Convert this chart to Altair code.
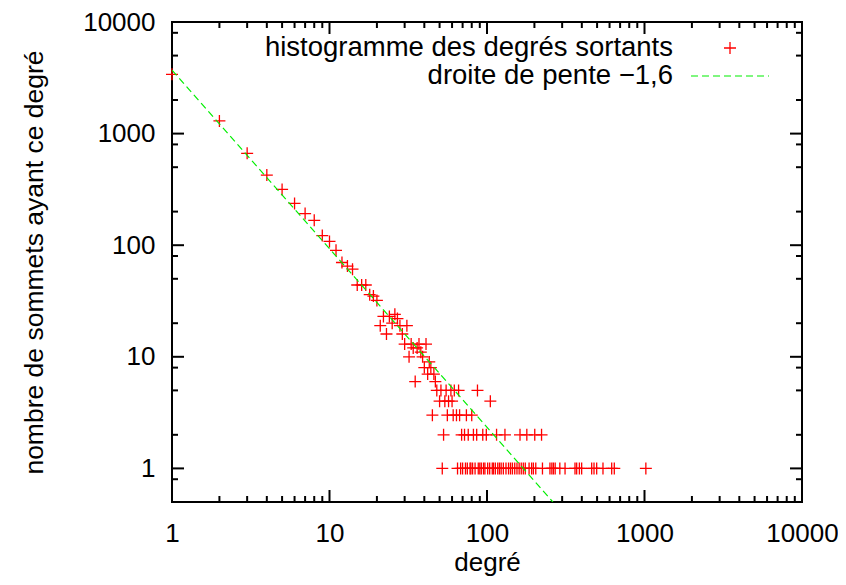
import altair as alt
import pandas as pd

# ---------------- data ----------------
# degrees 1..47 with their counts
head_deg = [1, 2, 3, 4, 5, 6, 7, 8, 9, 10, 11, 12, 13, 14, 15, 16, 17, 18, 19, 20,
            21, 22, 23, 24, 25, 26, 27, 28, 29, 30, 31, 32, 33, 34, 35, 36, 37, 38,
            39, 40, 41, 42, 43, 44, 45, 46, 47]
head_cnt = [3400, 1300, 665, 425, 316, 237, 192, 167, 122, 108, 90, 70, 65, 61, 44, 44,
            44, 36, 35, 32, 19, 23, 16, 23, 20, 24, 22, 19, 16, 13, 19, 10, 13, 12, 6,
            12, 13, 11, 10, 8, 13, 7, 9, 8, 3, 7, 6]
# degrees having 5, 4, 3, 2 and 1 vertices
deg_cnt5 = [48, 51, 55, 59, 62, 66, 87]
deg_cnt4 = [50, 54, 57, 60, 105]
deg_cnt3 = [56, 61, 64, 67, 74, 80]
deg_cnt2 = [53, 69, 72, 76, 82, 86, 94, 99, 115, 130, 162, 179, 201, 222]
deg_cnt1 = [52, 65, 68, 70, 73, 75, 78, 79, 81, 84, 88, 90, 92, 95, 97, 101, 104, 108,
            110, 113, 117, 120, 123, 127, 132, 137, 141, 145, 150, 155, 160, 165, 170,
            175, 185, 192, 197, 204, 225, 251, 258, 264, 271, 290, 313, 362, 371, 386,
            399, 462, 478, 497, 545, 619, 643, 1020]

# fitted line of slope -1.6 (end points)
line_deg = [1, 262]
line_cnt = [3700, 0.5]

x_major = [1, 10, 100, 1000, 10000]
x_minor = [m * 10 ** e for e in range(4) for m in range(2, 10)]
y_major = [1.0, 10.0, 100.0, 1000.0, 10000.0]
y_minor = [0.8] + [m * 10 ** e for e in range(4) for m in (2, 5, 8)]

legend_labels = ["histogramme des degrés sortants", "droite de pente \u22121,6"]

# ---------------- build tables ----------------
degs = list(head_deg)
cnts = list(head_cnt)
for c, lst in [(5, deg_cnt5), (4, deg_cnt4), (3, deg_cnt3), (2, deg_cnt2), (1, deg_cnt1)]:
    degs += lst
    cnts += [c] * len(lst)
pts = pd.DataFrame({"d": degs, "n": cnts})
line_df = pd.DataFrame({"d": line_deg, "n": line_cnt})

FONT = "Liberation Sans"
FS = 26
FS_LEG = 27.5
W, H = 630, 480
MAJ, MIN = 12, 6
PLUS = "M-1,0L1,0M0,-1L0,1"
RED = "#ff0000"
GREEN = "#00ee00"

xscale = alt.Scale(type="log", domain=[1, 10000], nice=False)
yscale = alt.Scale(type="log", domain=[0.5, 10000], nice=False)

# axes carrying only the labels and titles
label_x = alt.Axis(orient="bottom", values=x_major, format="d", ticks=False,
                   domain=False, grid=False, labelPadding=18, labelFont=FONT,
                   labelFontSize=FS, labelColor="black", labelFlush=False,
                   labelOverlap=False, title="degré", titleFont=FONT, titleFontSize=FS,
                   titleFontWeight="normal", titleColor="black", titleX=W / 2,
                   titleY=68, titleBaseline="alphabetic", titleAlign="center")
label_y = alt.Axis(orient="left", values=y_major, format="d", ticks=False,
                   domain=False, grid=False, labelPadding=17, labelFont=FONT,
                   labelFontSize=FS, labelColor="black", labelFlush=False,
                   labelOverlap=False, title="nombre de sommets ayant ce degré",
                   titleFont=FONT, titleFontSize=26.5, titleFontWeight="normal",
                   titleColor="black", titleX=-138, titleY=H / 2, titleAngle=270,
                   titleAlign="center", titleBaseline="middle")

points = alt.Chart(pts).mark_point(
    shape=PLUS, size=144, filled=False, strokeWidth=1.3, color=RED, opacity=1
).encode(
    x=alt.X("d:Q", scale=xscale, axis=label_x),
    y=alt.Y("n:Q", scale=yscale, axis=label_y),
)

fit = alt.Chart(line_df).mark_line(
    color=GREEN, strokeWidth=1.2, strokeDash=[7, 4], clip=True
).encode(
    x=alt.X("d:Q", scale=xscale),
    y=alt.Y("n:Q", scale=yscale),
)


# inward tick marks on all four sides (gnuplot style), drawn last
def xticks(values, size, top, key):
    return alt.Chart(pd.DataFrame({key: values})).mark_rule(
        color="#000000", strokeWidth=2, opacity=1
    ).encode(
        x=alt.X(f"{key}:Q", scale=xscale),
        y=alt.value(0 if top else H),
        y2=alt.value(size if top else H - size),
    )


def yticks(values, size, right, key):
    return alt.Chart(pd.DataFrame({key: values})).mark_rule(
        color="#000000", strokeWidth=2, opacity=1
    ).encode(
        y=alt.Y(f"{key}:Q", scale=yscale),
        x=alt.value(W if right else 0),
        x2=alt.value(W - size if right else size),
    )


ticks = [
    xticks(x_major, MAJ, False, "xb"), xticks(x_minor, MIN, False, "xbm"),
    xticks(x_major, MAJ, True, "xt"), xticks(x_minor, MIN, True, "xtm"),
    yticks(y_major, MAJ, False, "yl"), yticks(y_minor, MIN, False, "ylm"),
    yticks(y_major, MAJ, True, "yr"), yticks(y_minor, MIN, True, "yrm"),
]

# legend (drawn in pixel space, top-right of the plot)
leg_text1 = alt.Chart(pd.DataFrame({"t": [legend_labels[0]]})).mark_text(
    align="right", baseline="middle", font=FONT, fontSize=FS_LEG, color="black"
).encode(text="t:N", x=alt.value(501), y=alt.value(26))
leg_text2 = alt.Chart(pd.DataFrame({"t": [legend_labels[1]]})).mark_text(
    align="right", baseline="middle", font=FONT, fontSize=FS_LEG, color="black"
).encode(text="t:N", x=alt.value(501), y=alt.value(54))
leg_sym = alt.Chart(pd.DataFrame({"t": [legend_labels[0]]})).mark_point(
    shape=PLUS, size=144, filled=False, strokeWidth=1.3, color=RED, opacity=1
).encode(x=alt.value(558), y=alt.value(26))
leg_line = alt.Chart(pd.DataFrame({"t": [legend_labels[1]]})).mark_rule(
    color=GREEN, strokeWidth=1.2, strokeDash=[7, 4]
).encode(x=alt.value(519), x2=alt.value(597), y=alt.value(54))

chart = alt.layer(
    points, fit, leg_text1, leg_text2, leg_sym, leg_line, *ticks
).properties(
    width=W, height=H,
    autosize=alt.AutoSizeParams(type="none"),
    padding={"left": 164, "top": 14, "right": 36, "bottom": 74},
).configure_view(stroke="black", strokeWidth=2)

chart.save("out.html", embed_options={"renderer": "svg", "actions": False})
